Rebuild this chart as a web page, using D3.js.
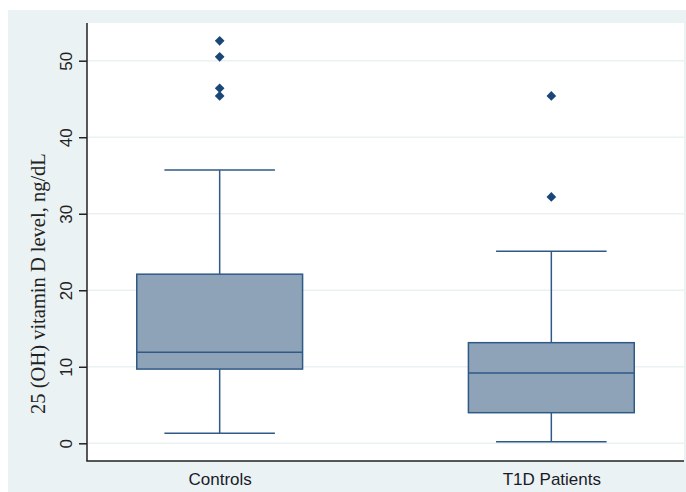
<!DOCTYPE html>
<html><head><meta charset="utf-8">
<script src="https://cdn.jsdelivr.net/npm/d3@7"></script>
<style>body{margin:0;background:#fff}svg{display:block}</style>
</head><body>
<script>
const categories = ["Controls", "T1D Patients"];
const lowerWhisker = [1.3, 0.2];
const q1 = [9.7, 4.0];
const median = [11.9, 9.2];
const q3 = [22.1, 13.15];
const upperWhisker = [35.7, 25.1];
const outliers = [[52.6, 50.5, 46.4, 45.4], [45.4, 32.2]];
const yTicks = [0, 10, 20, 30, 40, 50];
const yTitle = "25 (OH) vitamin D level, ng/dL";

const W = 686, H = 492;
const svg = d3.select("body").append("svg").attr("width", W).attr("height", H);
svg.append("rect").attr("x", 8).attr("y", 10).attr("width", W - 8).attr("height", H - 10).attr("fill", "#eaf2f3");
const L = 87, R = 684, T = 23, B = 461;
svg.append("rect").attr("x", L).attr("y", T).attr("width", R - L).attr("height", B - T).attr("fill", "#fff");

const y = d3.scaleLinear().domain([0, 50]).range([443.3, 60.7]);
const x = d3.scalePoint().domain(categories).range([L, R]).padding(0.4);
const step = x.step();

// gridlines
svg.append("g").selectAll("line").data(yTicks).join("line")
  .attr("x1", L + 1).attr("x2", R).attr("y1", d => y(d)).attr("y2", d => y(d))
  .attr("stroke", "#eaf2f3").attr("stroke-width", 1.5);

const stroke = "#2f5a87", fill = "#8ea3b7";
const g = svg.append("g");
categories.forEach((c, i) => {
  const cx = x(c), bw = step * 0.5, cw = step / 3;
  g.append("line").attr("x1", cx).attr("x2", cx).attr("y1", y(upperWhisker[i])).attr("y2", y(q3[i])).attr("stroke", stroke).attr("stroke-width", 1.5);
  g.append("line").attr("x1", cx).attr("x2", cx).attr("y1", y(q1[i])).attr("y2", y(lowerWhisker[i])).attr("stroke", stroke).attr("stroke-width", 1.5);
  g.append("line").attr("x1", cx - cw / 2).attr("x2", cx + cw / 2).attr("y1", y(upperWhisker[i])).attr("y2", y(upperWhisker[i])).attr("stroke", stroke).attr("stroke-width", 1.5);
  g.append("line").attr("x1", cx - cw / 2).attr("x2", cx + cw / 2).attr("y1", y(lowerWhisker[i])).attr("y2", y(lowerWhisker[i])).attr("stroke", stroke).attr("stroke-width", 1.5);
  g.append("rect").attr("x", cx - bw / 2).attr("width", bw).attr("y", y(q3[i])).attr("height", y(q1[i]) - y(q3[i]))
    .attr("fill", fill).attr("stroke", stroke).attr("stroke-width", 1.5);
  g.append("line").attr("x1", cx - bw / 2).attr("x2", cx + bw / 2).attr("y1", y(median[i])).attr("y2", y(median[i])).attr("stroke", stroke).attr("stroke-width", 1.5);
  g.selectAll(null).data(outliers[i]).join("path")
    .attr("d", d3.symbol(d3.symbolDiamond2, 60))
    .attr("transform", d => `translate(${cx},${y(d)})`)
    .attr("fill", "#1b4778");
});

// y axis
const ya = svg.append("g").attr("transform", `translate(${L},0)`)
  .call(d3.axisLeft(y).tickValues(yTicks).tickSize(8).tickPadding(6).tickFormat(d3.format("d")));
ya.select(".domain").attr("d", `M0,${T}V${B}`).attr("stroke", "#222").attr("stroke-width", 1.5);
ya.selectAll(".tick line").attr("stroke", "#222").attr("stroke-width", 1.5);
ya.selectAll(".tick text").attr("font-family", "Liberation Sans, Arial, sans-serif").attr("font-size", 17).attr("fill", "#222")
  .attr("text-anchor", "middle").attr("x", 0).attr("dy", 0)
  .attr("transform", "translate(-15,0) rotate(-90)");

// x axis
const xa = svg.append("g").attr("transform", `translate(0,${B})`)
  .call(d3.axisBottom(x).tickSize(0).tickPadding(12));
xa.select(".domain").attr("d", `M${L - 0.75},0H${R}`).attr("stroke", "#222").attr("stroke-width", 1.5);
xa.selectAll(".tick text").attr("font-family", "Liberation Sans, Arial, sans-serif").attr("font-size", 17).attr("fill", "#1a1a2a");

svg.append("text").attr("transform", `translate(45,283.5) rotate(-90)`)
  .attr("text-anchor", "middle").attr("font-family", "Liberation Serif, Times New Roman, serif")
  .attr("font-size", 20.5).attr("fill", "#222").text(yTitle);
</script>
</body></html>
